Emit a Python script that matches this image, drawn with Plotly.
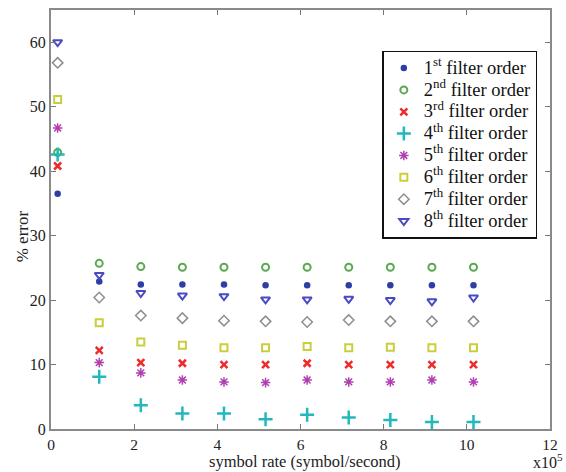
import plotly.graph_objects as go

# symbol rate in units of 1e5 symbol/second
symbol_rate = [0.16, 1.16, 2.16, 3.16, 4.16, 5.16, 6.16, 7.16, 8.16, 9.16, 10.16]

# % error for each filter order
err_1 = [36.5, 22.9, 22.4, 22.4, 22.4, 22.3, 22.3, 22.3, 22.3, 22.3, 22.3]
err_2 = [42.9, 25.7, 25.2, 25.1, 25.1, 25.1, 25.1, 25.1, 25.1, 25.1, 25.1]
err_3 = [40.8, 12.2, 10.3, 10.2, 10.0, 10.0, 10.2, 10.0, 10.0, 10.0, 10.0]
err_4 = [42.6, 8.1, 3.7, 2.4, 2.4, 1.5, 2.2, 1.8, 1.4, 1.1, 1.1]
err_5 = [46.7, 10.3, 8.7, 7.6, 7.3, 7.2, 7.6, 7.3, 7.3, 7.6, 7.3]
err_6 = [51.1, 16.5, 13.5, 13.0, 12.6, 12.6, 12.8, 12.6, 12.7, 12.6, 12.6]
err_7 = [56.8, 20.4, 17.6, 17.2, 16.8, 16.7, 16.6, 16.9, 16.7, 16.7, 16.7]
err_8 = [60.0, 23.9, 21.1, 20.7, 20.6, 20.1, 20.1, 20.2, 20.0, 19.8, 20.4]

orders = ["1", "2", "3", "4", "5", "6", "7", "8"]
suffixes = ["st", "nd", "rd", "th", "th", "th", "th", "th"]

series = [err_1, err_2, err_3, err_4, err_5, err_6, err_7, err_8]

styles = [
    dict(symbol="circle", color="#2b3fa6", size=6.5, line=dict(width=0)),
    dict(symbol="circle-open", color="#5aa851", size=7, line=dict(width=2, color="#5aa851")),
    dict(symbol="x-thin-open", color="#ee2a2a", size=7, line=dict(width=2.5, color="#ee2a2a")),
    dict(symbol="cross-thin-open", color="#22b8bc", size=10, line=dict(width=2.5, color="#22b8bc")),
    dict(symbol="asterisk-open", color="#b040b0", size=8, line=dict(width=1.5, color="#b040b0")),
    dict(symbol="square-open", color="#c9cf3c", size=7, line=dict(width=2, color="#c9cf3c")),
    dict(symbol="diamond-open", color="#8e8e8e", size=8, line=dict(width=1.5, color="#8e8e8e")),
    dict(symbol="triangle-down-open", color="#4a4ac4", size=8, line=dict(width=2, color="#4a4ac4")),
]

serif = "Liberation Serif"

fig = go.Figure()
for num, suf, ys, st in zip(orders, suffixes, series, styles):
    label = ('<span style="font-size:18.5px">' + num + "<sup>" + suf + "</sup>"
             + " filter order</span>")
    fig.add_trace(go.Scatter(
        x=symbol_rate, y=ys, mode="markers", name=label, marker=st,
    ))

axis_common = dict(
    showline=True, linecolor="#8a8a8a", linewidth=2, mirror="ticks",
    ticks="inside", ticklen=5, tickcolor="#777777", tickwidth=1,
    showgrid=False, zeroline=False,
)

fig.update_xaxes(range=[0, 12], dtick=2, tick0=0,
                 tickfont=dict(family=serif, size=15.5, color="#222222"), **axis_common)
fig.update_yaxes(range=[0, 65], dtick=10, tick0=0,
                 tickfont=dict(family=serif, size=16, color="#222222"), **axis_common)

fig.update_layout(
    width=566, height=472,
    margin=dict(l=51, r=9, t=8, b=43),
    paper_bgcolor="white", plot_bgcolor="white",
    showlegend=True,
    legend=dict(
        x=0.664, y=0.903, xanchor="left", yanchor="top",
        bgcolor="white", bordercolor="#111111", borderwidth=1.5,
        font=dict(family=serif, size=14.5, color="#111111"),
        itemsizing="trace", itemwidth=30,
    ),
    annotations=[
        dict(text="symbol rate (symbol/second)", xref="paper", yref="paper",
             x=0.51, y=-0.078, xanchor="center", yanchor="middle", showarrow=False,
             font=dict(family=serif, size=16.5, color="#222222")),
        dict(text="x10<sup>5</sup>", xref="paper", yref="paper",
             x=0.995, y=-0.076, xanchor="center", yanchor="middle", showarrow=False,
             font=dict(family=serif, size=16, color="#222222")),
        dict(text="% error", xref="paper", yref="paper",
             x=-0.058, y=0.46, xanchor="center", yanchor="middle", showarrow=False,
             textangle=-90, font=dict(family=serif, size=17, color="#222222")),
    ],
)

fig.write_html("out.html")
